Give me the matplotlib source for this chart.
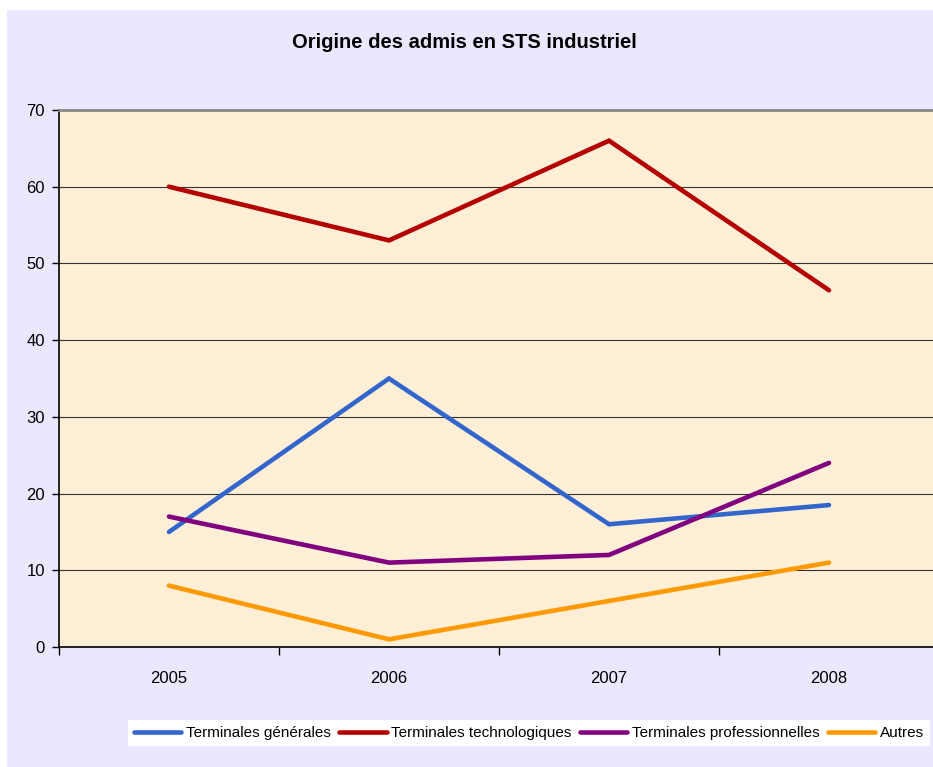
import matplotlib
matplotlib.use("Agg")
import matplotlib.pyplot as plt
from matplotlib.patches import Rectangle
import numpy as np

plt.rcParams["font.family"] = ["Liberation Sans", "DejaVu Sans"]

years = ["2005", "2006", "2007", "2008"]
generales = [15, 35, 16, 18.5]
technologiques = [60, 53, 66, 46.5]
professionnelles = [17, 11, 12, 24]
autres = [8, 1, 6, 11]

series = [
    ("Terminales générales", generales, "#3366CC"),
    ("Terminales technologiques", technologiques, "#B40000"),
    ("Terminales professionnelles", professionnelles, "#800080"),
    ("Autres", autres, "#FF9900"),
]

W, H = 933, 767
fig = plt.figure(figsize=(W / 100, H / 100), dpi=100, facecolor="white")

# lavender chart area
fig.patches.append(Rectangle((7 / W, 0), 1, 1 - 10 / H, transform=fig.transFigure,
                             facecolor="#EAE8FF", edgecolor="none", zorder=-5))

ax = fig.add_axes([59 / W, (H - 647) / H, (939 - 59) / W, (647 - 110) / H])
ax.set_facecolor("#FFEFD6")

x = np.arange(len(years))
for name, vals, col in series:
    ax.plot(x, vals, color=col, lw=3.3, label=name, solid_capstyle="round",
            solid_joinstyle="miter")

ax.set_xlim(-0.5, len(years) - 0.5)
ax.set_ylim(0, 70)
ax.set_yticks(range(0, 71, 10))
ax.yaxis.grid(True, color="#333333", lw=0.8)
ax.set_axisbelow(True)

ax.set_xticks(np.arange(-0.5, len(years), 1.0))
ax.set_xticklabels([])
ax.set_xticks(x, minor=True)
ax.set_xticklabels(years, minor=True)
ax.tick_params(axis="x", which="major", length=6, width=1, direction="out")
ax.tick_params(axis="x", which="minor", length=0, pad=17, labelsize=12)
ax.tick_params(axis="y", length=5, width=1, pad=5, labelsize=12)

ax.spines["right"].set_visible(False)
ax.spines["top"].set_color("#888888")
ax.spines["top"].set_linewidth(2)
ax.spines["left"].set_linewidth(1.2)
ax.spines["bottom"].set_linewidth(1.2)

fig.text(464 / W, 1 - 43 / H, "Origine des admis en STS industriel",
         ha="center", va="center", fontsize=14.5, fontweight="bold")

leg = fig.legend(loc="lower left", bbox_to_anchor=(128 / W, (H - 746) / H),
                 ncol=4, fontsize=11, frameon=True, fancybox=False,
                 handlelength=3.1, handletextpad=0.3, columnspacing=0.55,
                 borderpad=0.4, borderaxespad=0)
leg.get_frame().set_facecolor("white")
leg.get_frame().set_edgecolor("none")
leg.get_frame().set_alpha(1)

fig.savefig("out.png", dpi=100, facecolor="white")
